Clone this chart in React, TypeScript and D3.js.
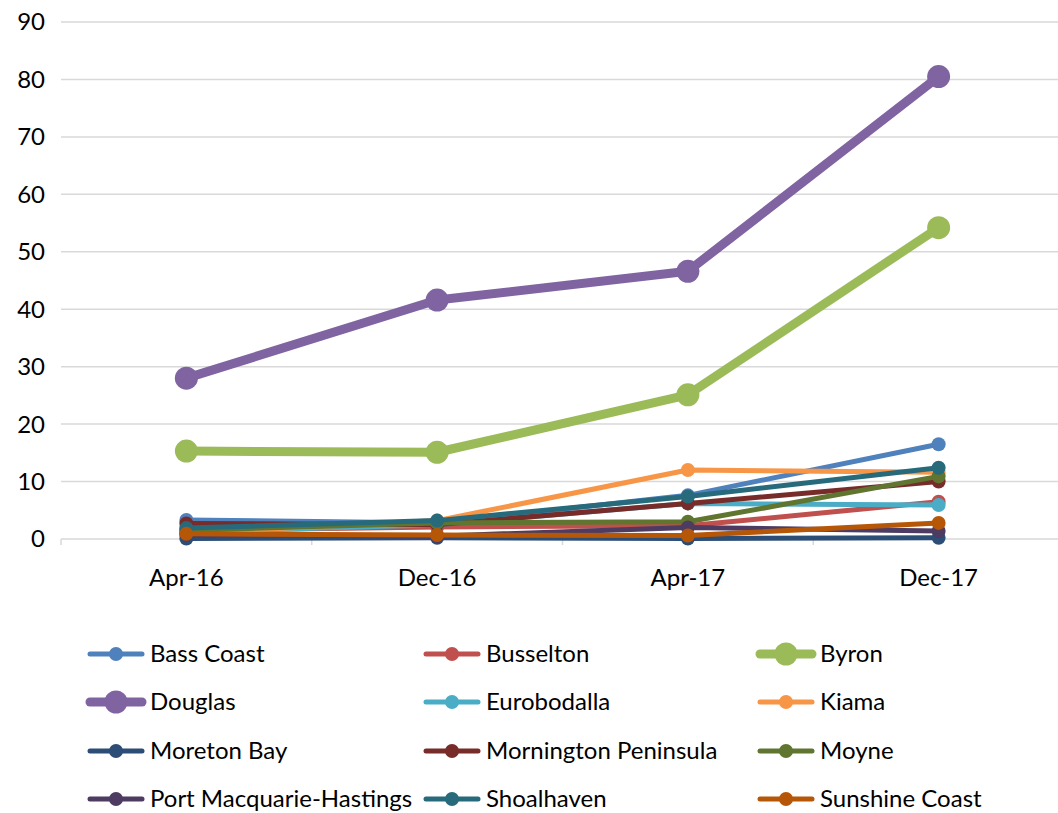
import React from "react";
import * as d3 from "d3";

const categories = ["Apr-16", "Dec-16", "Apr-17", "Dec-17"];
const seriesNames = [
  "Bass Coast", "Busselton", "Byron", "Douglas", "Eurobodalla", "Kiama",
  "Moreton Bay", "Mornington Peninsula", "Moyne", "Port Macquarie-Hastings",
  "Shoalhaven", "Sunshine Coast",
];
const bassCoast = [3.3, 2.8, 7.6, 16.5];
const busselton = [1.5, 2.1, 2.3, 6.5];
const byron = [15.3, 15.1, 25.1, 54.2];
const douglas = [28.0, 41.6, 46.6, 80.5];
const eurobodalla = [1.2, 2.5, 6.2, 5.9];
const kiama = [1.0, 3.2, 12.0, 11.6];
const moretonBay = [0.1, 0.2, 0.1, 0.2];
const mornington = [2.7, 2.5, 6.2, 10.0];
const moyne = [1.5, 2.8, 3.0, 10.9];
const portMacquarie = [0.8, 0.5, 2.0, 1.4];
const shoalhaven = [1.9, 3.2, 7.4, 12.4];
const sunshineCoast = [0.9, 0.7, 0.6, 2.8];
const yTicks = [0, 10, 20, 30, 40, 50, 60, 70, 80, 90];

const seriesValues = [
  bassCoast, busselton, byron, douglas, eurobodalla, kiama,
  moretonBay, mornington, moyne, portMacquarie, shoalhaven, sunshineCoast,
];
const colors = [
  "#4F81BD", "#C0504D", "#9BBB59", "#8064A2", "#4BACC6", "#F79646",
  "#2C4D75", "#772C2A", "#5F7530", "#4D3B62", "#276A7C", "#B65708",
];
const heavy = new Set(["Byron", "Douglas"]);

export default function App() {
  const W = 1058, H = 813;
  const left = 61, right = 1064, top = 22, bottom = 539;
  const x = d3.scaleBand<string>().domain(categories).range([left, right]);
  const y = d3.scaleLinear().domain([0, 90]).range([bottom, top]);
  const cx = (c: string) => (x(c) as number) + x.bandwidth() / 2;
  const line = d3.line<number>().x((_, i) => cx(categories[i])).y((v) => y(v));
  const font = "Lato, sans-serif";
  const fs = 24;

  const legendCols = [90, 426, 760];
  const legendRows = [654, 702, 751, 799];

  return (
    <svg width={W} height={H} style={{ position: "absolute", left: 0, top: 0 }}>
      <rect width={W} height={H} fill="#fff" />
      {yTicks.map((t) => (
        <g key={t}>
          <line x1={left} x2={right} y1={y(t)} y2={y(t)} stroke="#d9d9d9" strokeWidth={1.5} />
          <text x={45} y={y(t)} dy="0.35em" textAnchor="end" fontSize={fs} fontFamily={font} fill="#000">
            {t}
          </text>
        </g>
      ))}
      {[...categories.map((c) => x(c) as number), right].map((px, i) => (
        <line key={i} x1={px} x2={px} y1={bottom} y2={bottom + 6} stroke="#d9d9d9" strokeWidth={1.5} />
      ))}
      {categories.map((c) => (
        <text key={c} x={cx(c)} y={578} dy="0.35em" textAnchor="middle" fontSize={fs} fontFamily={font} fill="#000">
          {c}
        </text>
      ))}
      {seriesNames.map((name, si) => {
        const vals = seriesValues[si];
        const h = heavy.has(name);
        return (
          <g key={name}>
            <path d={line(vals) || ""} fill="none" stroke={colors[si]} strokeWidth={h ? 9 : 5} strokeLinecap="round" strokeLinejoin="round" />
            {vals.map((v, i) => (
              <circle key={i} cx={cx(categories[i])} cy={y(v)} r={h ? 11.5 : 7} fill={colors[si]} />
            ))}
          </g>
        );
      })}
      {seriesNames.map((name, si) => {
        const col = si % 3, row = Math.floor(si / 3);
        const lx = legendCols[col], ly = legendRows[row];
        const h = heavy.has(name);
        return (
          <g key={"lg" + name}>
            <line x1={lx} x2={lx + 52} y1={ly} y2={ly} stroke={colors[si]} strokeWidth={h ? 9 : 5} strokeLinecap="round" />
            <circle cx={lx + 26} cy={ly} r={h ? 11.5 : 7} fill={colors[si]} />
            <text x={lx + 60} y={ly} dy="0.35em" fontSize={fs} fontFamily={font} fill="#000">
              {name}
            </text>
          </g>
        );
      })}
    </svg>
  );
}
